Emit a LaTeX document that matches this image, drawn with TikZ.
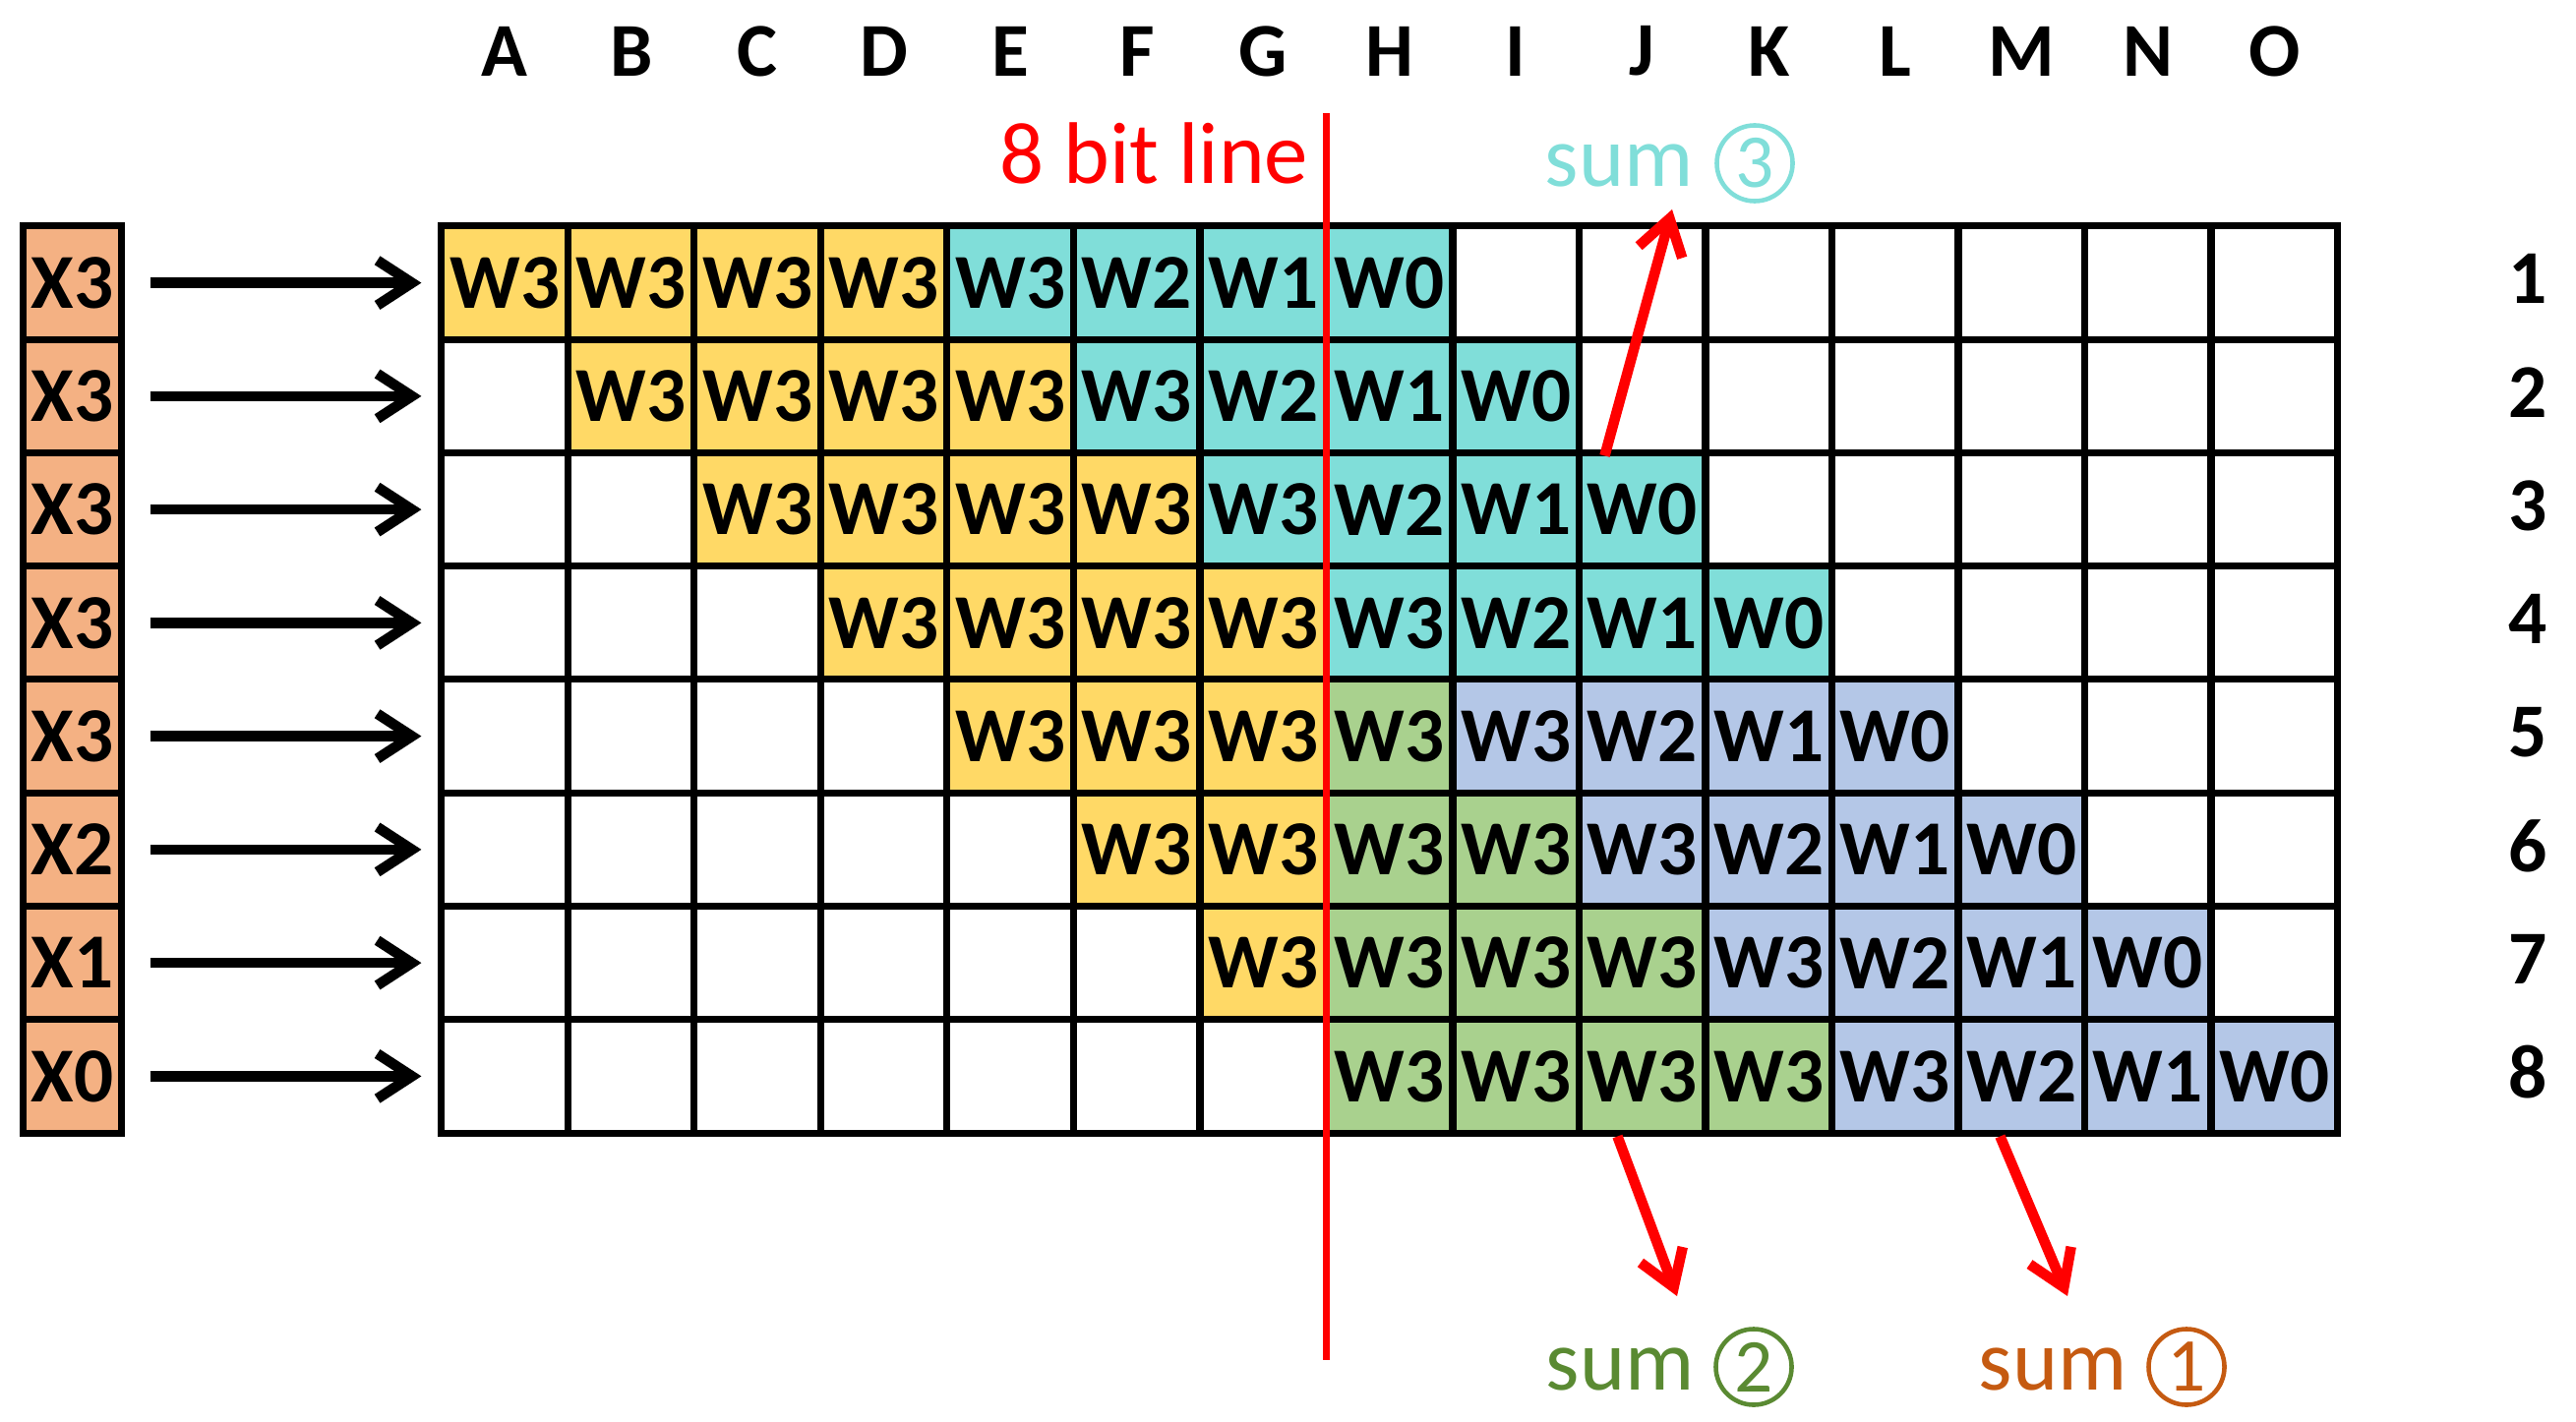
\documentclass[tikz,border=0pt]{standalone}
\usepackage{fontspec}
\setmainfont{Carlito}
\usetikzlibrary{arrows.meta,calc}
\definecolor{cyel}{HTML}{FFD966}
\definecolor{ctea}{HTML}{80DED9}
\definecolor{cgrn}{HTML}{A9D18E}
\definecolor{cblu}{HTML}{B4C7E7}
\definecolor{corg}{HTML}{F4B183}
\definecolor{sgrn}{HTML}{5A8A32}
\definecolor{sorg}{HTML}{C55A11}
\definecolor{cred}{HTML}{FF0000}
\begin{document}
\begin{tikzpicture}[x=0.01cm,y=-0.01cm,
  cell/.style={draw=black,line width=2pt,minimum width=1.285cm,minimum height=1.1525cm,inner sep=0pt,font=\fontsize{22.5}{24}\selectfont\bfseries},
  xbox/.style={draw=black,line width=2pt,fill=corg,minimum width=0.99cm,minimum height=1.1525cm,inner sep=0pt,font=\fontsize{22.5}{24}\selectfont\bfseries},
  hdr/.style={inner sep=0pt,font=\fontsize{22}{24}\selectfont\bfseries},
  blkarrow/.style={line width=3pt,-{Straight Barb[length=10pt,width=13pt]},shorten <=0.26cm,shorten >=0.17cm},
  redarrow/.style={draw=cred,line width=3pt,-{Straight Barb[length=10pt,width=13pt]}},
  sumtxt/.style={anchor=base west,inner sep=0pt,font=\fontsize{25}{30}\selectfont},
  circnum/.style={circle,line width=1.3pt,minimum size=0.77cm,inner sep=0pt,font=\fontsize{22}{22}\selectfont}]
\useasboundingbox (0,0) rectangle (2619,1446);
% grid cells
\foreach \r in {1,...,8}{
  \foreach \c in {1,...,15}{
    \pgfmathtruncatemacro{\k}{\c-\r}
    \def\lab{}\def\col{white}
    \ifnum\k>-1 \ifnum\k<4 \def\lab{W3}\ifnum\c<8 \def\col{cyel}\else\def\col{cgrn}\fi\fi\fi
    \ifnum\k>3 \ifnum\k<8 \pgfmathtruncatemacro{\w}{7-\k}\edef\lab{W\w}\ifnum\r<5 \def\col{ctea}\else\def\col{cblu}\fi\fi\fi
    \node[cell,fill=\col] (c-\r-\c) at ({449+(\c-0.5)*128.5},{230+(\r-0.5)*115.25}) {\lab};
  }
}
% input boxes and arrows
\foreach \r/\L in {1/X3,2/X3,3/X3,4/X3,5/X3,6/X2,7/X1,8/X0}{
  \node[xbox] (x\r) at (73.5,{230+(\r-0.5)*115.25}) {\L};
  \draw[blkarrow] (x\r.east) -- (c-\r-1.west);
  \node[hdr] (rn\r) at (2570,{226+(\r-0.5)*115.25}) {\r};
}
% column letters
\foreach \c/\L in {1/A,2/B,3/C,4/D,5/E,6/F,7/G,8/H,9/I,10/J,11/K,12/L,13/M,14/N,15/O}{
  \node[hdr] (col\c) at ({449+(\c-0.5)*128.5},52) {\L};
}
% 8 bit line
\coordinate (rtop) at (1348.5,115);
\coordinate (rbot) at (1348.5,1383);
\draw[cred,line width=2.1pt] (rtop) -- (rbot);
\node[anchor=base east,inner sep=0pt,text=cred,font=\fontsize{25.3}{30}\selectfont] (bitline) at (1331,187) {8 bit line};
% sums
\node[sumtxt,text=ctea] (sum3) at (1570,190) {sum};
\node[circnum,draw=ctea,text=ctea] (n3) at (1784,166) {3};
\node[sumtxt,text=sgrn] (sum2) at (1571,1413) {sum};
\node[circnum,draw=sgrn,text=sgrn] (n2) at (1783,1390) {2};
\node[sumtxt,text=sorg] (sum1) at (2011,1413) {sum};
\node[circnum,draw=sorg,text=sorg] (n1) at (2223,1390) {1};
% red arrows
\coordinate (t3) at (1700,213);
\coordinate (t2) at (1705,1318);
\coordinate (t1) at (2102,1318);
\draw[redarrow] ($(c-3-10.north west)+(29.5,6.5)$) -- (t3);
\draw[redarrow] ($(c-8-10.south west)+(42.5,0)$) -- (t2);
\draw[redarrow] ($(c-8-13.south west)+(46,0)$) -- (t1);
\end{tikzpicture}
\end{document}
